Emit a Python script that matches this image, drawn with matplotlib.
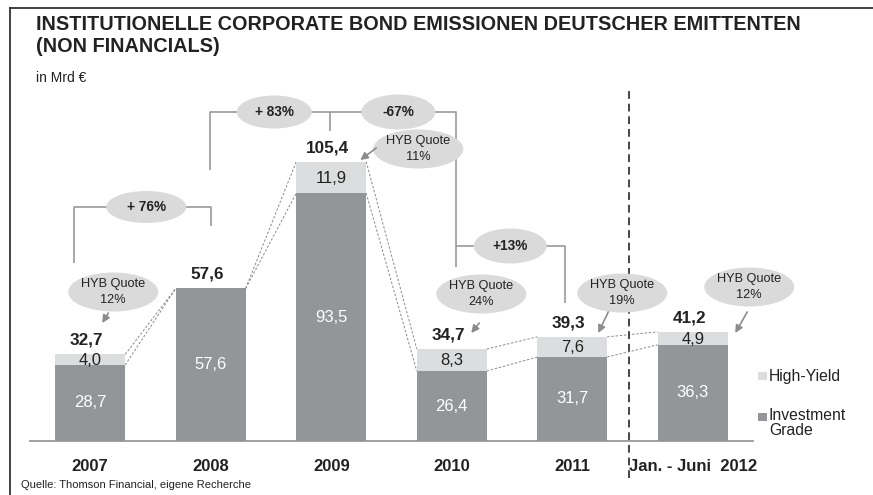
import matplotlib
matplotlib.use("Agg")
import matplotlib.pyplot as plt
from matplotlib.patches import Ellipse, Rectangle
from matplotlib.lines import Line2D

# ---------------- data ----------------
categories = ["2007", "2008", "2009", "2010", "2011", "Jan. - Juni  2012"]
investment_grade = [28.7, 57.6, 93.5, 26.4, 31.7, 36.3]
high_yield = [4.0, 0.0, 11.9, 8.3, 7.6, 4.9]
totals = [32.7, 57.6, 105.4, 34.7, 39.3, 41.2]
hyb_quote = ["12%", None, "11%", "24%", "19%", "12%"]
growth_labels = ["+ 76%", "+ 83%", "-67%", "+13%"]

ig_labels = ["28,7", "57,6", "93,5", "26,4", "31,7", "36,3"]
hy_labels = ["4,0", None, "11,9", "8,3", "7,6", "4,9"]
total_labels = ["32,7", "57,6", "105,4", "34,7", "39,3", "41,2"]

IG_COLOR = "#939598"
HY_COLOR = "#dcddde"
ELL_COLOR = "#dadadb"
LINE_COLOR = "#9a9a9a"
TXT = "#222222"

plt.rcParams["font.family"] = ["Liberation Sans", "DejaVu Sans"]

W, H = 873, 495
fig = plt.figure(figsize=(W / 100, H / 100), dpi=100)

def fx(px):
    return px / W

def fy(py):
    return 1 - py / H

# axes: baseline at py=441, x from px 30 to 753
YMAX = 150
PX_PER_UNIT = 2.65
ax_h = YMAX * PX_PER_UNIT
ax = fig.add_axes([fx(30), fy(441), (753 - 30) / W, ax_h / H])
ax.set_xlim(-0.5, 5.5)
ax.set_ylim(0, YMAX)
for s in ["top", "right", "left"]:
    ax.spines[s].set_visible(False)
ax.spines["bottom"].set_color("#9a9a9a")
ax.spines["bottom"].set_linewidth(1.3)
ax.set_yticks([])

x = list(range(len(categories)))
bw = 0.58
ig_bars = ax.bar(x, investment_grade, width=bw, color=IG_COLOR, zorder=3)
hy_bars = ax.bar(x, high_yield, width=bw, bottom=investment_grade, color=HY_COLOR, zorder=3)

ax.set_xticks(x)
ax.set_xticklabels(categories, fontsize=12, fontweight="bold", color=TXT)
ax.tick_params(axis="x", length=0, pad=13)

# segment labels
for i in x:
    ax.text(i, investment_grade[i] / 2, ig_labels[i], ha="center", va="center",
            color="white", fontsize=12, zorder=5)
    if hy_labels[i]:
        ax.text(i, investment_grade[i] + high_yield[i] / 2 - 0.3, hy_labels[i],
                ha="center", va="center", color=TXT, fontsize=12, zorder=5)
    ax.text(i - 0.03, totals[i] + 2.5, total_labels[i], ha="center", va="bottom",
            color=TXT, fontsize=12.3, fontweight="bold", zorder=5)

# dashed connectors between bars
dash = dict(color="#8a8a8a", lw=0.7, linestyle=(0, (2.5, 1.8)), zorder=2)
for i in range(len(x) - 1):
    x0 = i + bw / 2
    x1 = i + 1 - bw / 2
    ax.plot([x0, x1], [totals[i], totals[i + 1]], **dash)
    ax.plot([x0, x1], [investment_grade[i], investment_grade[i + 1]], **dash)

# vertical dashed separator
ax.plot([4.473, 4.473], [-14, 132.5], color="#444444", lw=1.4,
        linestyle=(0, (4, 2.5)), clip_on=False, zorder=4)

# ---- growth brackets ----
def px2x(px):
    return (px - 90) / 120.5

def py2y(py):
    return (441 - py) / PX_PER_UNIT

br = dict(color=LINE_COLOR, lw=1.2, zorder=1, solid_capstyle="butt")

def ellipse(cx, cy, wpx, hpx, text, bold=False, size=9, ls=1.1):
    e = Ellipse((cx, cy), wpx / 120.5, hpx / PX_PER_UNIT, facecolor=ELL_COLOR,
                edgecolor="none", zorder=6, clip_on=False)
    ax.add_patch(e)
    ax.text(cx, cy, text, ha="center", va="center", fontsize=size,
            fontweight="bold" if bold else "normal", color=TXT, zorder=7,
            linespacing=ls, clip_on=False)

# +76%
yb = py2y(207)
ax.plot([px2x(74), px2x(74), px2x(211), px2x(211)],
        [py2y(263), yb, yb, py2y(226)], **br)
ellipse(px2x(146), yb, 80, 32, growth_labels[0], bold=True, size=9.8)

# +83% and -67%
yt = py2y(112)
ax.plot([px2x(210), px2x(210), px2x(456), px2x(456)],
        [py2y(170), yt, yt, py2y(267)], **br)
ax.plot([px2x(330), px2x(330)], [yt, py2y(131)], **br)
ellipse(px2x(274), yt, 75, 33, growth_labels[1], bold=True, size=9.8)
ellipse(px2x(398), yt, 74, 35, growth_labels[2], bold=True, size=9.8)

# +13%
y13 = py2y(246)
ax.plot([px2x(456), px2x(565), px2x(565)], [y13, y13, py2y(303)], **br)
ellipse(px2x(510), y13, 73, 35, growth_labels[3], bold=True, size=9.8)

# ---- HYB quote bubbles with arrows ----
hyb_pos = {0: ((113, 292), (108, 313), (102, 323)),
           2: ((418, 149), (376, 148), (360, 160)),
           3: ((481, 294), (479, 323), (471, 333)),
           4: ((622, 293), (608, 312), (598, 333)),
           5: ((749, 287), (747, 312), (735, 333))}
for i, (c, a0, a1) in hyb_pos.items():
    ellipse(px2x(c[0]), py2y(c[1]), 90, 39, "HYB Quote\n" + hyb_quote[i], size=9.2, ls=1.35)
    ax.annotate("", xy=(px2x(a1[0]), py2y(a1[1])), xytext=(px2x(a0[0]), py2y(a0[1])),
                arrowprops=dict(arrowstyle="-|>", color="#8c8c8c", lw=1.2,
                                mutation_scale=11, shrinkA=0, shrinkB=0),
                zorder=6, annotation_clip=False)

# ---- legend (manual) ----
fig.add_artist(Rectangle((fx(758), fy(380)), 9 / W, 8 / H, facecolor=HY_COLOR,
                         edgecolor="none", transform=fig.transFigure))
fig.add_artist(Rectangle((fx(758), fy(421)), 9 / W, 8 / H, facecolor=IG_COLOR,
                         edgecolor="none", transform=fig.transFigure))
fig.text(fx(769), fy(376), "High-Yield", ha="left", va="center", fontsize=11.3, color=TXT)
fig.text(fx(769), fy(408), "Investment\nGrade", ha="left", va="top", fontsize=11.3,
         color=TXT, linespacing=1.0)

# ---- titles / notes ----
fig.text(fx(36), fy(25), "INSTITUTIONELLE CORPORATE BOND EMISSIONEN DEUTSCHER EMITTENTEN",
         ha="left", va="center", fontsize=14.3, fontweight="bold", color=TXT)
fig.text(fx(36), fy(47), "(NON FINANCIALS)", ha="left", va="center", fontsize=14.3,
         fontweight="bold", color=TXT)
fig.text(fx(36), fy(78), "in Mrd €", ha="left", va="center", fontsize=10, color=TXT)
fig.text(fx(21), fy(485), "Quelle: Thomson Financial, eigene Recherche", ha="left",
         va="center", fontsize=8, color=TXT)

# frame lines (left and top)
fig.add_artist(Line2D([fx(10), fx(10)], [fy(8), 0], color="#333333", lw=1.3,
                      transform=fig.transFigure))
fig.add_artist(Line2D([fx(10), 1], [fy(8), fy(8)], color="#333333", lw=1.3,
                      transform=fig.transFigure))

fig.savefig("out.png", dpi=100)
